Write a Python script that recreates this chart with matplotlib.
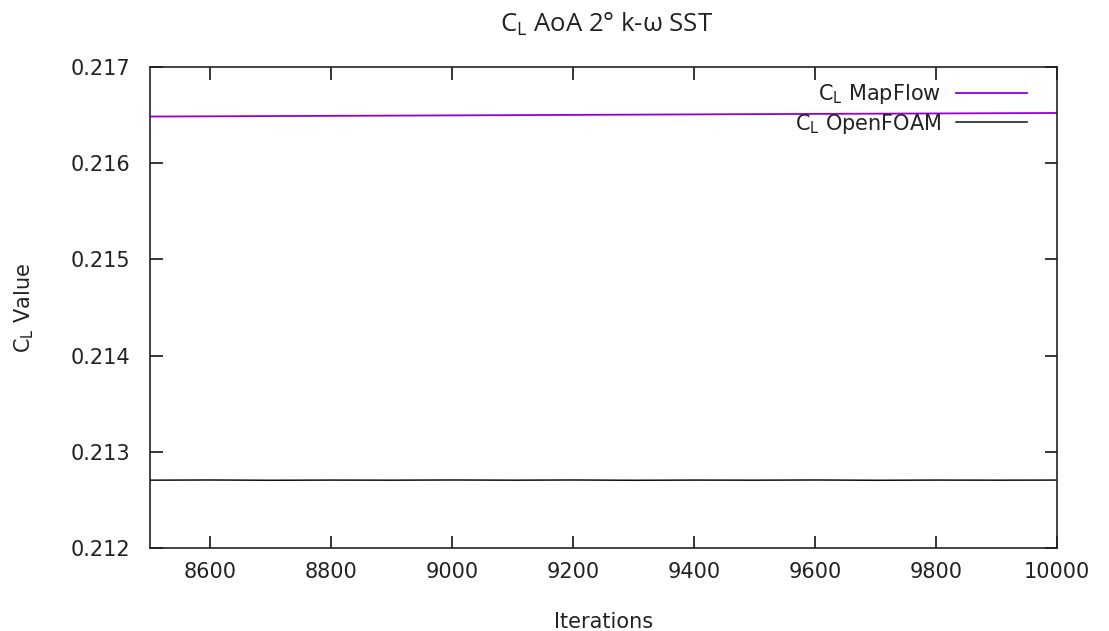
import matplotlib
matplotlib.use("Agg")
import matplotlib.pyplot as plt

plt.rcParams['font.family'] = ['DejaVu Sans']
plt.rcParams['mathtext.default'] = 'regular'

# Data
iter_mapflow = [8500, 9000, 9500, 10000]
cl_mapflow = [0.216485, 0.216497, 0.216510, 0.216522]

iter_openfoam = [8500, 8600, 8700, 8800, 8900, 9000, 9100, 9200, 9300, 9400,
                 9500, 9600, 9700, 9800, 9900, 10000]
cl_openfoam = [0.212705, 0.212707, 0.212704, 0.212706, 0.212705, 0.212707,
               0.212705, 0.212707, 0.212704, 0.212706, 0.212705, 0.212707,
               0.212704, 0.212706, 0.212705, 0.212706]

xticks = [8600, 8800, 9000, 9200, 9400, 9600, 9800, 10000]
yticks = [0.212, 0.213, 0.214, 0.215, 0.216, 0.217]

FS = 15
TXT = '#222222'

fig = plt.figure(figsize=(11.09, 6.31), dpi=100)
ax = fig.add_axes([150/1109, 1-548/631, (1057-150)/1109, (548-67)/631])

ax.plot(iter_mapflow, cl_mapflow, color='#9400d3', lw=1.3, label='C$_L$ MapFlow')
ax.plot(iter_openfoam, cl_openfoam, color='#111111', lw=1.1, label='C$_L$ OpenFOAM')

ax.set_xlim(8500, 10000)
ax.set_ylim(0.212, 0.217)
ax.set_xticks(xticks)
ax.set_yticks(yticks)
ax.set_yticklabels([f"{v:.3f}" for v in yticks])
ax.tick_params(direction='in', top=True, right=True, length=9, width=1.1,
               labelsize=FS, labelcolor=TXT)
ax.tick_params(axis='y', pad=14)
ax.tick_params(axis='x', pad=10)
for s in ax.spines.values():
    s.set_linewidth(1.2)
    s.set_color('#222222')

ax.set_xlabel('Iterations', fontsize=FS, labelpad=22, color=TXT)
ax.set_ylabel('C$_L$ Value', fontsize=FS, labelpad=25, color=TXT)
fig.text(607/1109, 1-24/631, 'C$_L$ AoA 2° k-ω SST', ha='center', va='center',
         fontsize=18.5, family='Open Sans', color=TXT)

leg = ax.legend(loc='upper right', frameon=False, markerfirst=False,
                fontsize=FS, handlelength=3.4, borderaxespad=0.2,
                labelspacing=0.25, handletextpad=0.7, borderpad=0.3)
for t in leg.get_texts():
    t.set_ha('right')
    t.set_color(TXT)
leg.set_bbox_to_anchor((1 - 20/907, 1 - 5/481), transform=ax.transAxes)

fig.savefig('out.png', dpi=100)
